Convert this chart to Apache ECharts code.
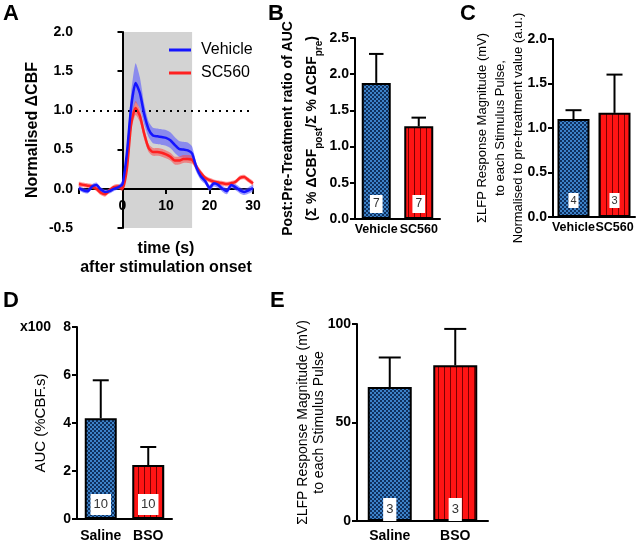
<!DOCTYPE html>
<html><head><meta charset="utf-8">
<script src="https://cdn.jsdelivr.net/npm/echarts@6/dist/echarts.min.js"></script>
<style>html,body{margin:0;padding:0;background:#fff}#c{width:640px;height:543px}</style>
</head><body><div id="c"></div>
<script>
// ---------- Panel A data ----------
const timeSec = [-10,-9,-8,-7,-6,-5,-4,-3,-2,-1,0,1,2,3,4,5,6,7,8,9,10,11,12,13,14,15,16,17,18,19,20,21,22,23,24,25,26,27,28,29,30];
const vehicleMean = [0.01,-0.02,-0.03,0.03,0.05,-0.01,-0.04,-0.03,0.0,0.02,0.06,0.45,1.05,1.35,1.22,0.95,0.76,0.68,0.67,0.66,0.65,0.62,0.56,0.51,0.50,0.49,0.45,0.27,0.16,0.10,0.01,0.07,0.05,0.0,-0.03,0.05,0.02,-0.02,-0.04,-0.02,0.01];
const vehicleSem = [0.03,0.03,0.03,0.03,0.03,0.03,0.03,0.03,0.03,0.03,0.04,0.08,0.18,0.25,0.20,0.13,0.10,0.10,0.10,0.10,0.10,0.10,0.10,0.10,0.10,0.10,0.09,0.06,0.05,0.04,0.04,0.04,0.04,0.04,0.04,0.04,0.04,0.04,0.04,0.04,0.04];
const sc560Mean = [0.06,0.05,0.04,0.03,0.0,-0.05,-0.07,-0.02,0.02,0.03,0.0,0.25,0.83,1.03,0.93,0.70,0.52,0.47,0.47,0.46,0.44,0.41,0.36,0.36,0.38,0.38,0.37,0.28,0.20,0.14,0.11,0.09,0.08,0.07,0.06,0.07,0.09,0.14,0.15,0.11,0.07];
const sc560Sem = [0.03,0.03,0.03,0.03,0.03,0.03,0.03,0.03,0.03,0.03,0.03,0.05,0.08,0.09,0.08,0.07,0.05,0.05,0.05,0.05,0.05,0.05,0.05,0.05,0.05,0.05,0.05,0.04,0.04,0.03,0.03,0.03,0.03,0.03,0.03,0.03,0.03,0.03,0.03,0.03,0.03];
const stimWindow = [0, 16];

// ---------- Panel B ----------
const bCats = ['Vehicle', 'SC560'];
const bMeans = [1.88, 1.28];
const bErrTop = [2.28, 1.40];
const bN = ['7', '7'];
// ---------- Panel C ----------
const cCats = ['Vehicle', 'SC560'];
const cMeans = [1.10, 1.17];
const cErrTop = [1.20, 1.60];
const cN = ['4', '3'];
// ---------- Panel D ----------
const dCats = ['Saline', 'BSO'];
const dMeans = [4.2, 2.25];
const dErrTop = [5.78, 3.0];
const dN = ['10', '10'];
// ---------- Panel E ----------
const eCats = ['Saline', 'BSO'];
const eMeans = [68, 79];
const eErrTop = [83, 97.5];
const eN = ['3', '3'];

const FONT = '"Liberation Sans", Arial, sans-serif';

function bluePattern() {
  const c = document.createElement('canvas'); c.width = 4; c.height = 4;
  const g = c.getContext('2d');
  g.fillStyle = '#3d82c8'; g.fillRect(0, 0, 4, 4);
  g.fillStyle = '#0f305e'; g.fillRect(0, 0, 2, 2); g.fillRect(2, 2, 2, 2);
  return { image: c, repeat: 'repeat' };
}
function redPattern() {
  const c = document.createElement('canvas'); c.width = 6; c.height = 4;
  const g = c.getContext('2d');
  g.fillStyle = '#ff1414'; g.fillRect(0, 0, 6, 4);
  g.fillStyle = '#7a0000'; g.fillRect(0, 0, 1, 4);
  return { image: c, repeat: 'repeat' };
}
const BLUE = bluePattern(), RED = redPattern();

const axisLine = { show: true, lineStyle: { color: '#000', width: 2 } };
const tickY = { show: true, length: 5, lineStyle: { color: '#000', width: 2 } };
const boldLbl = { color: '#000', fontWeight: 'bold', fontSize: 14, fontFamily: FONT };

const grids = [
  { left: 79, top: 32, width: 174, height: 196 },   // A
  { left: 355, top: 38, width: 85, height: 181 },   // B
  { left: 553, top: 39, width: 82, height: 178 },   // C
  { left: 77, top: 327, width: 95, height: 192 },   // D
  { left: 357, top: 324, width: 131, height: 197 }  // E
];

function catX(idx, cats, margin, fs) {
  return { type: 'category', gridIndex: idx, data: cats, axisLine: axisLine,
    axisTick: { show: false }, axisLabel: Object.assign({}, boldLbl, { interval: 0, hideOverlap: false, margin: margin, fontSize: fs }) };
}
function valY(idx, max, interval, dec, name, nameGap, nameStyle) {
  return { type: 'value', gridIndex: idx, min: 0, max: max, interval: interval,
    axisLine: axisLine, axisTick: tickY, splitLine: { show: false },
    axisLabel: Object.assign({ margin: 6, formatter: v => dec ? v.toFixed(dec) : String(v) }, boldLbl),
    name: name, nameLocation: 'middle', nameGap: nameGap, nameMoveOverlap: false, nameTextStyle: nameStyle };
}
function barSeries(idx, vals, colors, nLabels, bw, lbl) {
  return { type: 'bar', xAxisIndex: idx, yAxisIndex: idx, barWidth: bw, z: 2,
    data: vals.map((v, i) => ({ value: v, itemStyle: { color: colors[i], borderColor: '#000', borderWidth: 2 } })),
    label: { show: true, position: 'insideBottom', distance: lbl.distance,
      formatter: p => nLabels[p.dataIndex], backgroundColor: '#fff', color: '#333',
      fontSize: lbl.fontSize, fontFamily: FONT, padding: lbl.padding } };
}
function errSeries(idx, vals, tops, bw) {
  return { type: 'custom', xAxisIndex: idx, yAxisIndex: idx, z: 3, silent: true,
    data: vals.map((v, i) => [i, v, tops[i]]),
    encode: { x: 0, y: [1, 2] },
    renderItem: (params, api) => {
      const b = api.coord([api.value(0), api.value(1)]);
      const t = api.coord([api.value(0), api.value(2)]);
      const hw = bw * 0.25;
      const st = { stroke: '#000', lineWidth: 2 };
      return { type: 'group', children: [
        { type: 'line', shape: { x1: b[0], y1: b[1], x2: t[0], y2: t[1] }, style: st },
        { type: 'line', shape: { x1: t[0] - hw, y1: t[1], x2: t[0] + hw, y2: t[1] }, style: st }
      ] };
    } };
}
function bandSeries(lo, hi, color) {
  return { type: 'custom', xAxisIndex: 0, yAxisIndex: 0, z: 2, silent: true,
    data: timeSec.map((t, i) => [t, lo[i], hi[i]]),
    encode: { x: 0, y: [1, 2] },
    renderItem: (params, api) => {
      if (params.dataIndex !== 0) return null;
      const pts = [];
      for (let i = 0; i < timeSec.length; i++) pts.push(api.coord([timeSec[i], hi[i]]));
      for (let i = timeSec.length - 1; i >= 0; i--) pts.push(api.coord([timeSec[i], lo[i]]));
      return { type: 'polygon', shape: { points: pts, smooth: 0.2 }, style: { fill: color } };
    } };
}

const vLo = vehicleMean.map((m, i) => m - vehicleSem[i]);
const vHi = vehicleMean.map((m, i) => m + vehicleSem[i]);
const sLo = sc560Mean.map((m, i) => m - sc560Sem[i]);
const sHi = sc560Mean.map((m, i) => m + sc560Sem[i]);

const bName = '{b|Post:Pre-Treatment ratio of AUC}\n{b|(Σ % ΔCBF}{s|post}{b|/Σ % ΔCBF}{s|pre}{b|)}';

const option = {
  animation: false,
  backgroundColor: '#fff',
  textStyle: { fontFamily: FONT },
  grid: grids,
  legend: { data: ['Vehicle', 'SC560'], orient: 'vertical', left: 164, top: 37,
    icon: 'rect', itemWidth: 22, itemHeight: 3, itemGap: 7,
    textStyle: { fontSize: 16, color: '#000', fontFamily: FONT, padding: [0, 0, 0, 5] } },
  xAxis: [
    { type: 'value', gridIndex: 0, min: -10, max: 30, interval: 10, position: 'bottom', offset: -39,
      axisLine: { show: true, onZero: false, lineStyle: { color: '#000', width: 2 } },
      axisTick: { show: true, length: 5, lineStyle: { color: '#000', width: 2 } },
      splitLine: { show: false },
      axisLabel: Object.assign({ margin: 10, formatter: v => v < 0 ? '' : String(v) }, boldLbl),
      name: 'time (s)\nafter stimulation onset', nameLocation: 'middle', nameGap: 50, nameMoveOverlap: false,
      nameTextStyle: { fontWeight: 'bold', fontSize: 16, lineHeight: 19, color: '#000', fontFamily: FONT } },
    catX(1, bCats, 4, 12.5),
    catX(2, cCats, 4, 12.5),
    catX(3, dCats, 10, 14),
    catX(4, eCats, 8, 14)
  ],
  yAxis: [
    { type: 'value', gridIndex: 0, min: -0.5, max: 2.0, interval: 0.5,
      axisLine: axisLine, axisTick: tickY, splitLine: { show: false },
      axisLabel: Object.assign({ margin: 6, formatter: v => v.toFixed(1) }, boldLbl),
      name: 'Normalised ΔCBF', nameLocation: 'middle', nameGap: 38, nameMoveOverlap: false,
      nameTextStyle: { fontWeight: 'bold', fontSize: 16, color: '#000', fontFamily: FONT } },
    valY(1, 2.5, 0.5, 1, bName, 31, { color: '#000', fontFamily: FONT,
      rich: { b: { fontWeight: 'bold', fontSize: 14, lineHeight: 24, color: '#000', fontFamily: FONT },
              s: { fontWeight: 'bold', fontSize: 10, lineHeight: 24, verticalAlign: 'bottom', color: '#000', fontFamily: FONT } } }),
    valY(2, 2.0, 0.5, 1, 'ΣLFP Response Magnitude (mV)\nto each Stimulus Pulse,\nNormalised to pre-treatment value (a.u.)', 26,
      { fontSize: 13, lineHeight: 18, color: '#000', fontFamily: FONT }),
    valY(3, 8, 2, 0, 'AUC (%CBF.s)', 29, { fontSize: 15, color: '#000', fontFamily: FONT }),
    valY(4, 100, 50, 0, 'ΣLFP Response Magnitude (mV)\nto each Stimulus Pulse', 30,
      { fontSize: 14, lineHeight: 16, color: '#000', fontFamily: FONT })
  ],
  series: [
    // stimulation window shading (drawn beneath the axes)
    { type: 'custom', xAxisIndex: 0, yAxisIndex: 0, z: -1, silent: true,
      data: [[stimWindow[0], stimWindow[1], -0.5, 2.0]],
      encode: { x: [0, 1], y: [2, 3] },
      renderItem: (params, api) => {
        const p0 = api.coord([api.value(0), api.value(3)]);
        const p1 = api.coord([api.value(1), api.value(2)]);
        return { type: 'rect', shape: { x: p0[0], y: p0[1], width: p1[0] - p0[0], height: p1[1] - p0[1] },
          style: { fill: '#d3d3d3' } };
      } },
    { type: 'line', xAxisIndex: 0, yAxisIndex: 0, data: [], z: 1, silent: true,
      markLine: { silent: true, symbol: 'none', label: { show: false },
        lineStyle: { color: '#000', width: 2, type: [2, 5] },
        data: [[{ coord: [-10, 1.0] }, { coord: [30, 1.0] }]] } },
    bandSeries(vLo, vHi, 'rgba(90,90,255,0.6)'),
    bandSeries(sLo, sHi, 'rgba(255,70,70,0.55)'),
    { type: 'line', name: 'SC560', xAxisIndex: 0, yAxisIndex: 0, z: 4, showSymbol: false, smooth: 0.2,
      color: '#ff2020', lineStyle: { width: 2.5, color: '#ff2020' },
      data: timeSec.map((t, i) => [t, sc560Mean[i]]) },
    { type: 'line', name: 'Vehicle', xAxisIndex: 0, yAxisIndex: 0, z: 5, showSymbol: false, smooth: 0.2,
      color: '#1515ff', lineStyle: { width: 2.5, color: '#1515ff' },
      data: timeSec.map((t, i) => [t, vehicleMean[i]]) },
    barSeries(1, bMeans, [BLUE, RED], bN, 29, { distance: 6, fontSize: 12, padding: [3, 3] }),
    errSeries(1, bMeans, bErrTop, 29),
    barSeries(2, cMeans, [BLUE, RED], cN, 32, { distance: 9, fontSize: 11, padding: [2, 2] }),
    errSeries(2, cMeans, cErrTop, 32),
    barSeries(3, dMeans, [BLUE, RED], dN, 32, { distance: 4, fontSize: 13, padding: [4, 3] }),
    errSeries(3, dMeans, dErrTop, 32),
    barSeries(4, eMeans, [BLUE, RED], eN, 44, { distance: 0, fontSize: 13, padding: [5, 3] }),
    errSeries(4, eMeans, eErrTop, 44)
  ],
  graphic: [
    { type: 'text', left: 3, top: 3, style: { text: 'A', font: 'bold 22px ' + FONT, fill: '#000' } },
    { type: 'text', left: 268, top: 3, style: { text: 'B', font: 'bold 22px ' + FONT, fill: '#000' } },
    { type: 'text', left: 460, top: 3, style: { text: 'C', font: 'bold 22px ' + FONT, fill: '#000' } },
    { type: 'text', left: 3, top: 290, style: { text: 'D', font: 'bold 22px ' + FONT, fill: '#000' } },
    { type: 'text', left: 270, top: 290, style: { text: 'E', font: 'bold 22px ' + FONT, fill: '#000' } },
    { type: 'text', left: 20, top: 320, style: { text: 'x100', font: 'bold 14px ' + FONT, fill: '#000' } }
  ]
};
const chart = echarts.init(document.getElementById('c'), null, { renderer: 'canvas' });
chart.setOption(option);
</script></body></html>
